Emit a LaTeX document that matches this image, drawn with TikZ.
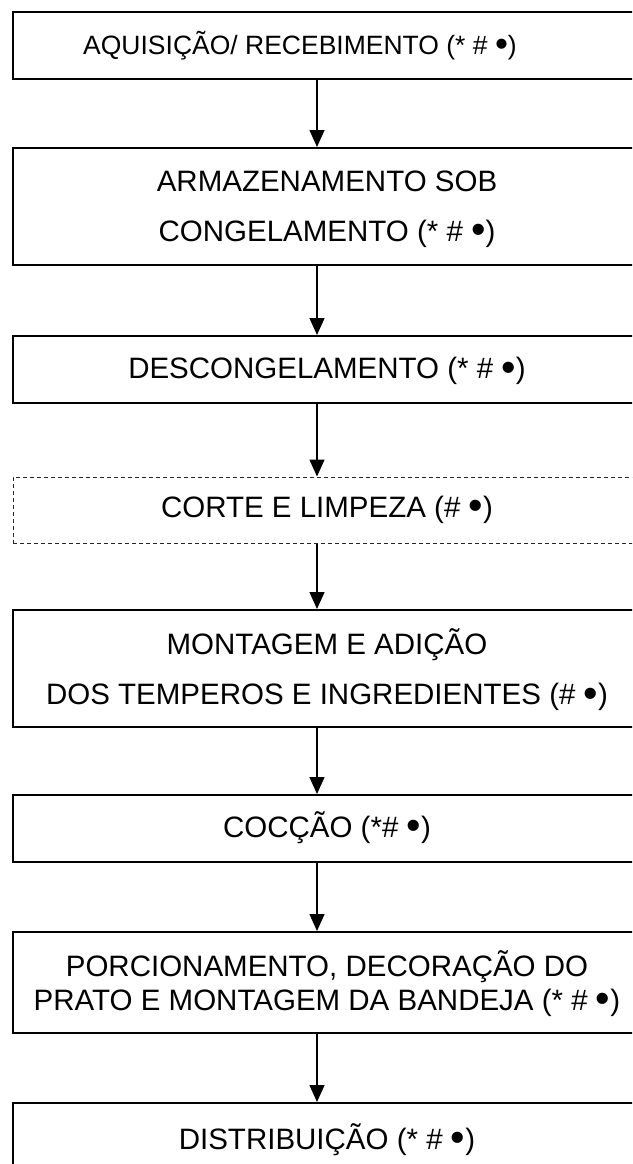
\documentclass[tikz,border=0pt]{standalone}
\usepackage{fontspec}
\setmainfont{Liberation Sans}
\usetikzlibrary{arrows.meta}
\newcommand{\mybul}{\raisebox{-0.09em}{\scalebox{1.4}{•}}}
\begin{document}
\begin{tikzpicture}[x=1pt,y=-1pt,
  box/.style={draw=black, line width=2pt, rectangle, minimum width=632pt, inner sep=0pt},
  dbox/.style={draw=black!85, line width=1pt, dash pattern=on 4pt off 3pt, rectangle, minimum width=632pt, inner sep=0pt},
  txt/.style={anchor=base, inner sep=0pt, font=\fontsize{29.5pt}{35pt}\selectfont},
  txtsmall/.style={anchor=base, inner sep=0pt, font=\fontsize{26.5pt}{32pt}\selectfont},
  arr/.style={draw=black, line width=1.3pt, -{Triangle[length=17pt,width=15pt]}}
]
\useasboundingbox (0,0) rectangle (632,1164);
\clip (0,0) rectangle (632,1164);
\fill[white] (0,0) rectangle (632,1164);

% boxes
\node[box, minimum height=67pt] (b1) at (329,45.5) {};
\node[box, minimum height=117pt] (b2) at (329,206.5) {};
\node[box, minimum height=67pt] (b3) at (329,369.5) {};
\node[dbox, minimum height=66pt] (b4) at (329,510) {};
\node[box, minimum height=117pt] (b5) at (329,668.5) {};
\node[box, minimum height=67pt] (b6) at (329,828.5) {};
\node[box, minimum height=101pt] (b7) at (329,982.5) {};
\node[box, minimum height=100pt] (b8) at (329,1153) {};

% texts
\node[txtsmall] (t1) at (300,54.5) {AQUISIÇÃO/ RECEBIMENTO (* \# \mybul)};
\node[txt] (t2a) at (327,191) {ARMAZENAMENTO SOB};
\node[txt] (t2b) at (327,241) {CONGELAMENTO (* \# \mybul)};
\node[txt] (t3) at (327,378.5) {DESCONGELAMENTO (* \# \mybul)};
\node[txt] (t4) at (327,517) {CORTE E LIMPEZA (\# \mybul)};
\node[txt] (t5a) at (327,654) {MONTAGEM E ADIÇÃO};
\node[txt] (t5b) at (327,704.5) {DOS TEMPEROS E INGREDIENTES (\# \mybul)};
\node[txt] (t6) at (327,837) {COCÇÃO (*\# \mybul)};
\node[txt] (t7a) at (327,976) {PORCIONAMENTO, DECORAÇÃO DO};
\node[txt] (t7b) at (327,1010) {PRATO E MONTAGEM DA BANDEJA (* \# \mybul)};
\node[txt] (t8) at (327,1149) {DISTRIBUIÇÃO (* \# \mybul)};

% arrows
\foreach \a/\b in {b1/b2,b2/b3,b3/b4,b4/b5,b5/b6,b6/b7,b7/b8}
  \draw[arr] ([xshift=-12pt]\a.south) -- ([xshift=-12pt]\b.north);
\end{tikzpicture}
\end{document}
